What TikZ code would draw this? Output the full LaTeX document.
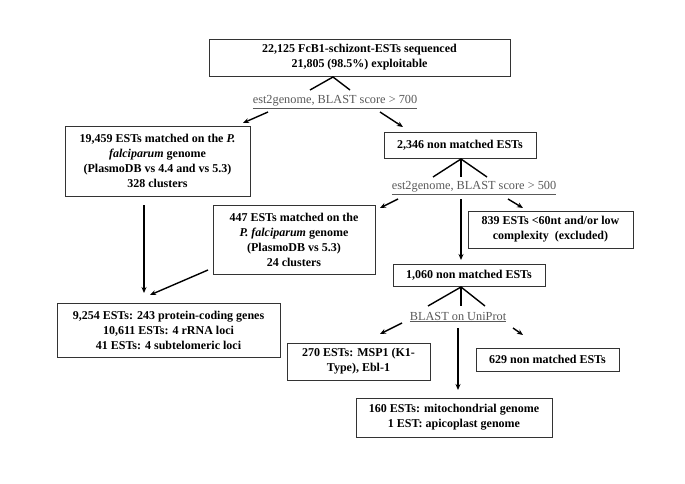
\documentclass[tikz,border=0pt]{standalone}
\usepackage{fontspec}
\setmainfont{Liberation Serif}
\usetikzlibrary{arrows.meta}

\begin{document}
\begin{tikzpicture}[x=1pt, y=-1pt,
    box/.style={draw=black!80, line width=0.8pt, align=center, inner sep=0pt,
                font=\fontsize{12}{15}\selectfont\bfseries},
    lbl/.style={text=black!65, inner sep=0pt, font=\fontsize{12.3}{14}\selectfont},
    arr/.style={-{Stealth[length=6pt, width=5pt]}, line width=1.4pt},
    peak/.style={line width=1.4pt}]
    \useasboundingbox (0,0) rectangle (685,484);

    % boxes
    \node[box, minimum width=301pt, minimum height=37pt] (top) at (359.5,57.5)
        {22,125 FcB1-schizont-ESTs sequenced\\21,805 (98.5\%) exploitable};
    \node[box, minimum width=185pt, minimum height=70pt] (match1) at (157.5,161)
        {19,459 ESTs matched on the \textit{P.}\\\textit{falciparum} genome\\(PlasmoDB vs 4.4 and vs 5.3)\\328 clusters};
    \node[box, minimum width=152pt, minimum height=26pt] (nomatch1) at (460,145)
        {2,346 non matched ESTs};
    \node[box, minimum width=162pt, minimum height=69pt] (match2) at (294,239.5)
        {447 ESTs matched on the\\\textit{P. falciparum} genome\\(PlasmoDB vs 5.3)\\24 clusters};
    \node[box, minimum width=165pt, minimum height=37pt] (excl) at (550.5,229.5)
        {839 ESTs <60nt and/or low\\complexity~~(excluded)};
    \node[box, minimum width=152pt, minimum height=22pt] (nomatch2) at (469,275)
        {1,060 non matched ESTs};
    \node[box, minimum width=223pt, minimum height=54pt] (loci) at (168.5,330)
        {9,254 ESTs: 243 protein-coding genes\\10,611 ESTs: 4 rRNA loci\\41 ESTs: 4 subtelomeric loci};
    \node[box, minimum width=143pt, minimum height=37pt] (msp) at (358.5,361.5)
        {270 ESTs: MSP1 (K1-\\Type), Ebl-1};
    \node[box, minimum width=143pt, minimum height=23pt] (nomatch3) at (547.5,359.5)
        {629 non matched ESTs};
    \node[box, minimum width=196pt, minimum height=39pt] (mito) at (454,417.5)
        {160 ESTs: mitochondrial genome\\1 EST: apicoplast genome};

    % labels
    \node[lbl] (blast700) at (335,102) {\underline{est2genome, BLAST score > 700}};
    \node[lbl] (blast500) at (474,188) {\underline{est2genome, BLAST score > 500}};
    \node[lbl] (uniprot) at (458,317) {\underline{BLAST on UniProt}};

    % peaks
    \coordinate (p1) at (333,77);
    \draw[peak] (310,90) -- (p1) -- (350,90);
    \coordinate (p2) at (461,159);
    \draw[peak] (433,177) -- (p2) -- (487,177);
    \draw[peak] (p2) -- (461,177);
    \coordinate (p3) at (461,287);
    \draw[peak] (428,306) -- (p3) -- (485,306);
    \draw[peak] (p3) -- (461,306);

    % arrows
    \coordinate (a1) at (268,112);  \coordinate (b1) at (243,123);
    \coordinate (a2) at (380,112);  \coordinate (b2) at (403,127);
    \coordinate (a3) at (144,205);  \coordinate (b3) at (144,293);
    \coordinate (a4) at (208,270);  \coordinate (b4) at (150,295);
    \coordinate (a5) at (398,199);  \coordinate (b5) at (380,208);
    \coordinate (a6) at (461,199);  \coordinate (b6) at (461,260);
    \coordinate (a7) at (508,199);  \coordinate (b7) at (523,208);
    \coordinate (a8) at (402,323);  \coordinate (b8) at (380,334);
    \coordinate (a9) at (458,328);  \coordinate (b9) at (458,390);
    \coordinate (a10) at (513,328); \coordinate (b10) at (523,335);
    \foreach \i in {1,...,10}
        \draw[arr] (a\i) -- (b\i);
\end{tikzpicture}
\end{document}
